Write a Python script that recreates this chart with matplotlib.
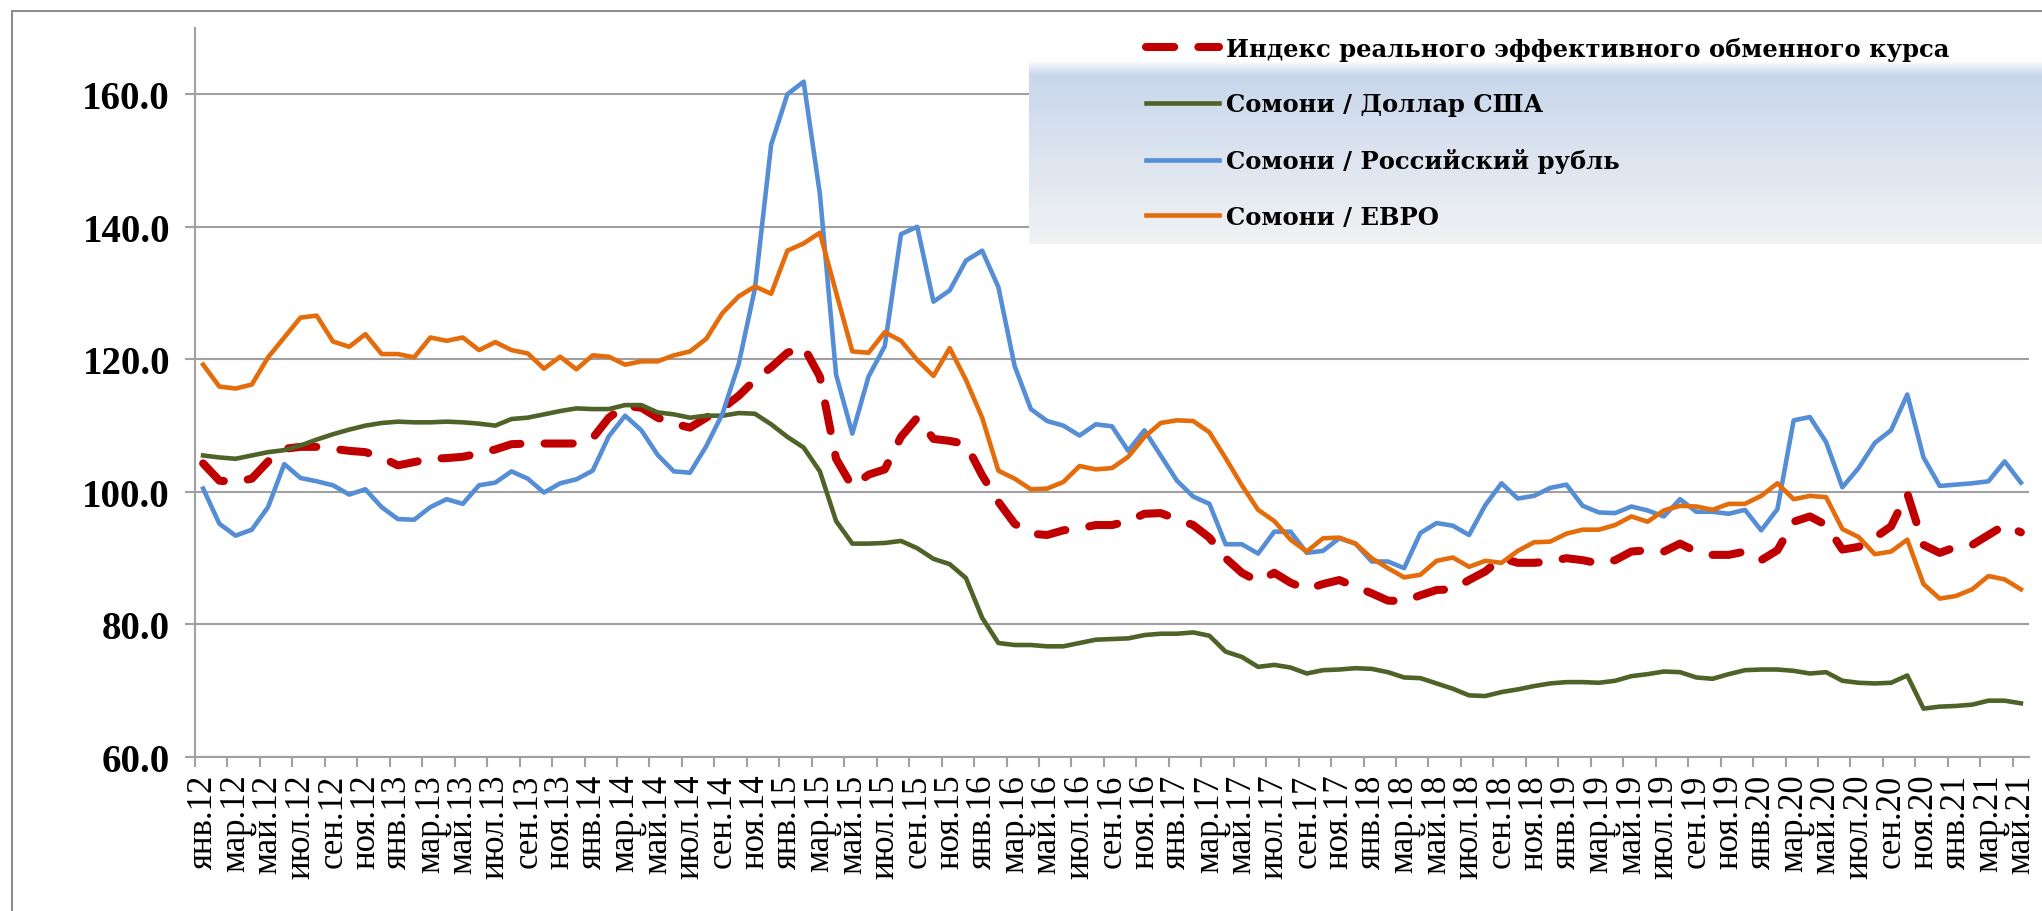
import numpy as np
import matplotlib
matplotlib.use("Agg")
import matplotlib.pyplot as plt

# monthly categories jan.2012 .. may.2021
month_names = ["янв", "фев", "мар", "апр", "май", "июн", "июл", "авг", "сен", "окт", "ноя", "дек"]
categories = [f"{month_names[m]}.{y % 100}" for y in range(2012, 2022) for m in range(12)][:113]

reer = [104.3, 101.7, 101.5, 102.0, 104.6, 106.5, 106.8, 106.8, 106.5, 106.2, 106.0, 105.2,
        104.0, 104.5, 105.0, 105.1, 105.3, 105.8, 106.4, 107.2, 107.3, 107.3, 107.3, 107.3,
        108.1, 111.2, 113.0, 112.7, 111.2, 110.3, 109.7, 111.2, 112.6, 114.5, 116.9, 118.8,
        121.0, 121.9, 117.4, 105.0, 100.8, 102.6, 103.4, 108.3, 111.2, 108.0, 107.7, 107.2,
        102.5, 98.5, 95.2, 93.7, 93.5, 94.2, 94.5, 95.0, 95.0, 95.6, 96.7, 96.8,
        95.9, 95.0, 93.1, 90.0, 87.8, 86.5, 87.8, 86.3, 85.3, 86.1, 86.7, 85.7,
        84.7, 83.6, 83.5, 84.4, 85.2, 85.3, 86.7, 88.0, 90.0, 89.3, 89.3, 89.5,
        90.0, 89.7, 89.2, 89.7, 91.0, 91.2, 91.0, 92.2, 91.0, 90.5, 90.5, 91.0,
        89.7, 91.2, 95.5, 96.3, 95.0, 91.3, 91.7, 93.1, 94.8, 99.8, 92.0, 90.8,
        91.7, 92.0, 93.5, 95.0, 93.9]

usd = [105.5, 105.2, 105.0, 105.5, 106.0, 106.3, 107.0, 107.9, 108.7, 109.4, 110.0, 110.4,
       110.6, 110.5, 110.5, 110.6, 110.5, 110.3, 110.0, 111.0, 111.2, 111.7, 112.2, 112.6,
       112.5, 112.5, 113.1, 113.1, 112.0, 111.7, 111.2, 111.5, 111.5, 111.9, 111.8, 110.2,
       108.3, 106.7, 103.1, 95.6, 92.2, 92.2, 92.3, 92.6, 91.5, 89.9, 89.1, 87.0,
       81.0, 77.2, 76.9, 76.9, 76.7, 76.7, 77.2, 77.7, 77.8, 77.9, 78.4, 78.6,
       78.6, 78.8, 78.3, 75.9, 75.1, 73.6, 73.9, 73.5, 72.6, 73.1, 73.2, 73.4,
       73.3, 72.8, 72.0, 71.9, 71.1, 70.3, 69.3, 69.2, 69.8, 70.2, 70.7, 71.1,
       71.3, 71.3, 71.2, 71.5, 72.2, 72.5, 72.9, 72.8, 72.0, 71.8, 72.5, 73.1,
       73.2, 73.2, 73.0, 72.6, 72.8, 71.5, 71.2, 71.1, 71.2, 72.3, 67.3, 67.6,
       67.7, 67.9, 68.5, 68.5, 68.1]

rub = [100.5, 95.2, 93.4, 94.3, 97.7, 104.2, 102.1, 101.6, 101.0, 99.6, 100.4, 97.7,
       95.9, 95.8, 97.7, 98.9, 98.2, 101.0, 101.4, 103.1, 102.0, 99.9, 101.3, 101.9,
       103.2, 108.4, 111.5, 109.3, 105.6, 103.1, 102.9, 106.9, 111.8, 119.3, 130.7, 152.4,
       160.0, 161.9, 145.0, 117.7, 108.8, 117.4, 122.0, 138.9, 140.0, 128.7, 130.4, 134.9,
       136.4, 130.9, 119.0, 112.5, 110.7, 110.0, 108.5, 110.2, 109.9, 106.2, 109.3, 105.5,
       101.7, 99.3, 98.2, 92.1, 92.1, 90.7, 94.0, 94.0, 90.8, 91.1, 93.0, 92.2,
       89.5, 89.5, 88.5, 93.8, 95.3, 94.9, 93.5, 98.0, 101.3, 99.0, 99.4, 100.6,
       101.1, 97.9, 96.9, 96.8, 97.8, 97.2, 96.3, 98.9, 97.0, 97.0, 96.7, 97.3,
       94.2, 97.4, 110.8, 111.3, 107.5, 100.7, 103.6, 107.4, 109.3, 114.7, 105.2, 100.9,
       101.1, 101.3, 101.6, 104.6, 101.4]

eur = [119.2, 115.9, 115.6, 116.2, 120.3, 123.3, 126.3, 126.6, 122.7, 121.9, 123.8, 120.8,
       120.8, 120.3, 123.3, 122.8, 123.3, 121.4, 122.6, 121.4, 120.9, 118.6, 120.4, 118.5,
       120.6, 120.4, 119.2, 119.7, 119.7, 120.6, 121.2, 123.1, 127.0, 129.5, 131.0, 129.9,
       136.4, 137.5, 139.1, 130.1, 121.2, 121.0, 124.1, 122.8, 119.9, 117.5, 121.7, 116.9,
       111.2, 103.2, 102.0, 100.4, 100.5, 101.5, 103.9, 103.4, 103.6, 105.3, 108.3, 110.4,
       110.8, 110.7, 109.0, 105.1, 101.0, 97.3, 95.6, 92.8, 91.0, 93.0, 93.1, 92.2,
       90.0, 88.5, 87.1, 87.5, 89.6, 90.1, 88.7, 89.6, 89.3, 91.1, 92.4, 92.5,
       93.7, 94.3, 94.3, 95.0, 96.3, 95.5, 97.2, 97.9, 97.8, 97.3, 98.2, 98.2,
       99.4, 101.3, 98.9, 99.4, 99.2, 94.4, 93.2, 90.6, 91.0, 92.8, 86.1, 83.9,
       84.3, 85.3, 87.3, 86.8, 85.3]

labels = ["Индекс реального эффективного обменного курса",
          "Сомони / Доллар США",
          "Сомони / Российский рубль",
          "Сомони / ЕВРО"]
colors = ["#C00000", "#4F6228", "#558ED5", "#E46C0A"]
yticks = [60, 80, 100, 120, 140, 160]

W, H = 2042, 912
fig = plt.figure(figsize=(W / 100, H / 100), dpi=100)
ax = fig.add_axes([195 / W, (H - 758) / H, (2029 - 195) / W, (758 - 29) / H])

x = np.arange(len(categories))
ax.plot(x, reer, color=colors[0], lw=5.8, dashes=(3.5, 3.0),
        dash_capstyle="round", solid_capstyle="round", label=labels[0])
ax.plot(x, usd, color=colors[1], lw=3.3, label=labels[1])
ax.plot(x, rub, color=colors[2], lw=3.3, label=labels[2])
ax.plot(x, eur, color=colors[3], lw=3.3, label=labels[3])

ax.set_xlim(-0.5, len(categories) - 0.5)
ax.set_ylim(60, 170)
ax.set_yticks(yticks)
ax.set_yticklabels([f"{v:.1f}" for v in yticks], fontfamily="Liberation Serif",
                   fontweight="bold", fontsize=28)
ax.yaxis.grid(True, color="#A0A0A0", lw=1.5)
ax.set_axisbelow(True)
for s in ["top", "right"]:
    ax.spines[s].set_visible(False)
for s in ["left", "bottom"]:
    ax.spines[s].set_color("#A0A0A0")
    ax.spines[s].set_linewidth(1.5)
ax.tick_params(axis="y", length=7, width=1.5, color="#A0A0A0", pad=11)

ax.set_xticks(np.arange(-0.5, len(categories) - 1, 2))
ax.set_xticklabels([])
ax.set_xticks(x[::2], minor=True)
ax.set_xticklabels(categories[::2], minor=True, rotation=90,
                   fontfamily="Liberation Serif", fontsize=25)
ax.tick_params(axis="x", which="major", length=7, width=1.5, color="#A0A0A0")
ax.tick_params(axis="x", which="minor", length=0, pad=12)

# outer chart frame
fig.add_artist(plt.Rectangle((12 / W, -0.1), 1.2, 1.1 - 12 / H, transform=fig.transFigure,
                             fill=False, edgecolor="#8C8C8C", lw=1.5))

# gradient legend background
gax = fig.add_axes([1029 / W, 1 - 245 / H, (W - 1029) / W, (245 - 61) / H])
gax.set_zorder(1)
t = np.linspace(0, 1, 200)[:, None]
top = np.array([197, 213, 236]) / 255
bot = np.array([242, 242, 243]) / 255
grad = top + (bot - top) * t[..., None]
fade = np.clip(t / 0.08, 0, 1)[..., None]
grad = 1 - (1 - grad) * fade
gax.imshow(grad, aspect="auto", extent=[0, 1, 0, 1])
gax.axis("off")

handles, labs = ax.get_legend_handles_labels()
fig.legend(handles, labs, loc="upper left", bbox_to_anchor=(1124 / W, 1 - 16 / H),
           frameon=False, handlelength=3.0, handletextpad=0.3, labelspacing=1.3,
           prop={"family": "DejaVu Serif", "weight": "bold", "size": 17.5})

fig.savefig("out.png", dpi=100)
